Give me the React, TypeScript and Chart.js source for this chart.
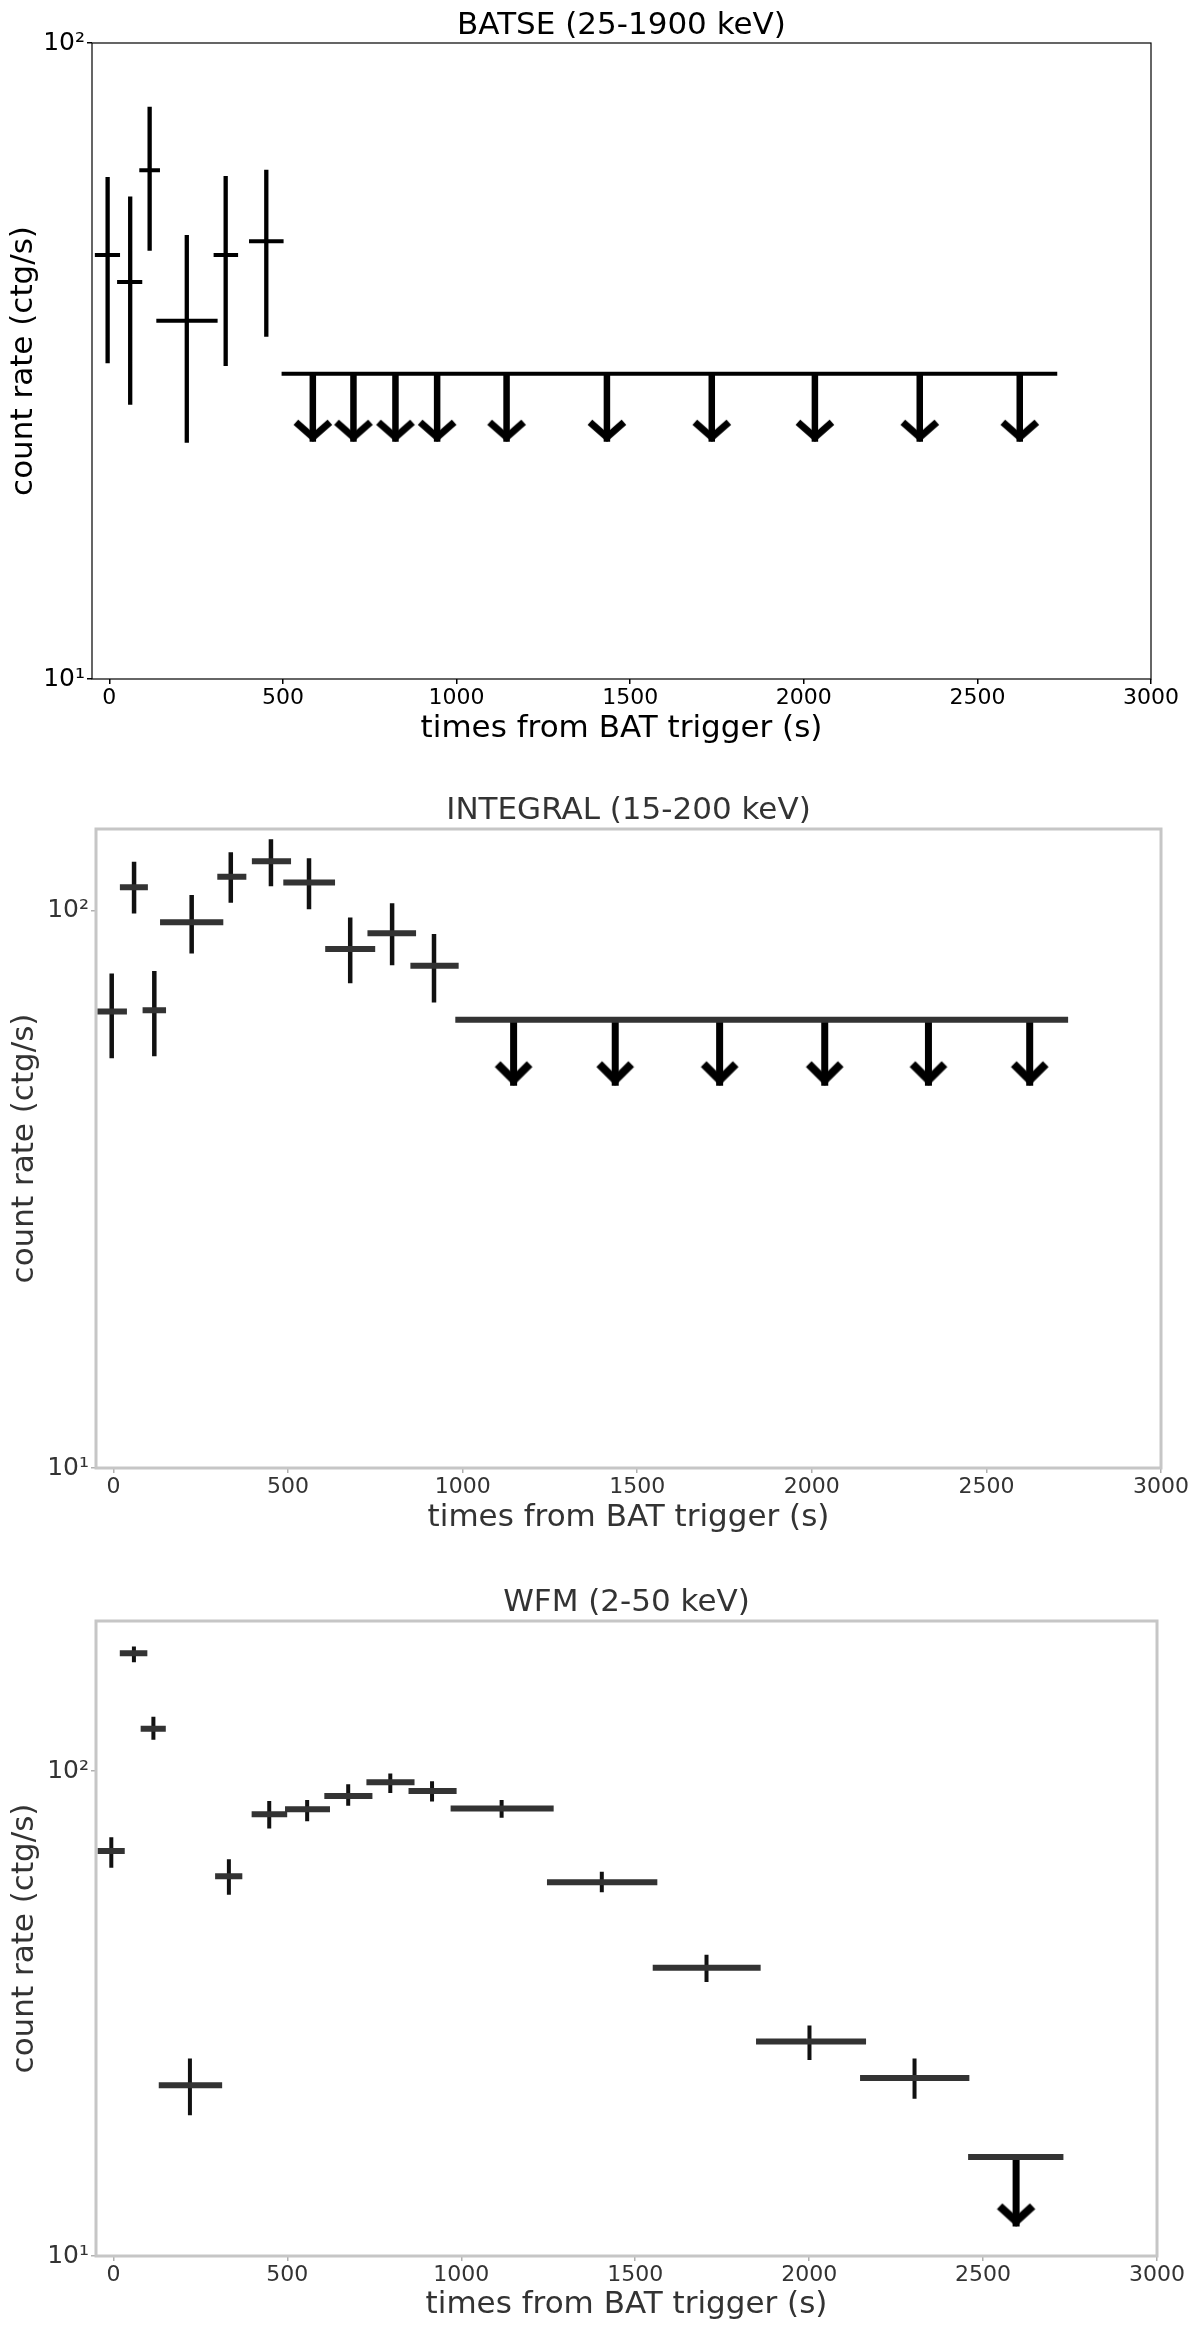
import React, { useEffect, useRef } from "react";
import { Chart, registerables } from "chart.js";

Chart.register(...registerables);

// ---------- shared axis data ----------
const X_TICKS = [0, 500, 1000, 1500, 2000, 2500, 3000];
const X_MIN = -50;
const X_MAX = 3000;
const Y_TICKS = [10, 100];
const Y_TICK_LABELS = ["10¹", "10²"];
const X_LABEL = "times from BAT trigger (s)";
const Y_LABEL = "count rate (ctg/s)";

// ---------- BATSE (25-1900 keV) ----------
const BATSE_TITLE = "BATSE (25-1900 keV)";
const BATSE_T = [-5, 60, 116, 223, 335, 452];
const BATSE_T_LO = [-36, 28, 92, 141, 306, 408];
const BATSE_T_HI = [25, 89, 140, 306, 365, 496];
const BATSE_RATE = [46.4, 42.1, 63.1, 36.6, 46.4, 48.8];
const BATSE_RATE_LO = [31.6, 27.2, 47.5, 23.7, 31.3, 34.8];
const BATSE_RATE_HI = [61.1, 56.9, 78.8, 49.5, 61.3, 62.7];
const BATSE_UL_T = [586, 703, 824, 944, 1144, 1433, 1735, 2032, 2334, 2622];
const BATSE_UL_T_LO = [496, 645, 763, 884, 1044, 1290, 1584, 1884, 2183, 2478];
const BATSE_UL_T_HI = [645, 763, 884, 1044, 1290, 1584, 1884, 2183, 2478, 2730];
const BATSE_UL_RATE = [30.2, 30.2, 30.2, 30.2, 30.2, 30.2, 30.2, 30.2, 30.2, 30.2];
const BATSE_UL_TIP = [23.6, 23.6, 23.6, 23.6, 23.6, 23.6, 23.6, 23.6, 23.6, 23.6];
const BATSE_Y_MAX = 100;

// ---------- INTEGRAL (15-200 keV) ----------
const INTEGRAL_TITLE = "INTEGRAL (15-200 keV)";
const INTEGRAL_T = [-5, 59, 117, 224, 336, 451, 560, 678, 798, 918];
const INTEGRAL_T_LO = [-38, 27, 92, 142, 306, 405, 495, 615, 736, 859];
const INTEGRAL_T_HI = [30, 90, 142, 306, 372, 500, 626, 741, 858, 980];
const INTEGRAL_RATE = [65.9, 110.1, 66.2, 95.3, 115, 122.6, 112.3, 85.3, 91, 79.6];
const INTEGRAL_RATE_LO = [54.8, 99.7, 55.3, 84.5, 104.2, 111.6, 101.4, 74.7, 80.5, 69];
const INTEGRAL_RATE_HI = [76.4, 121.2, 77.2, 105.6, 126, 133, 122.9, 96.2, 102.1, 89.9];
const INTEGRAL_UL_T = [1146, 1437, 1736, 2037, 2334, 2624];
const INTEGRAL_UL_T_LO = [979, 1290, 1585, 1885, 2185, 2480];
const INTEGRAL_UL_T_HI = [1290, 1585, 1885, 2185, 2480, 2734];
const INTEGRAL_UL_RATE = [63.7, 63.7, 63.7, 63.7, 63.7, 63.7];
const INTEGRAL_UL_TIP = [48.5, 48.5, 48.5, 48.5, 48.5, 48.5];
const INTEGRAL_Y_MAX = 140;

// ---------- WFM (2-50 keV) ----------
const WFM_TITLE = "WFM (2-50 keV)";
const WFM_T = [-6, 59, 115, 220, 332, 448, 557, 675, 796, 916, 1116, 1404, 1705, 2001, 2303];
const WFM_T_LO = [-37, 27, 87, 139, 301, 406, 502, 615, 736, 857, 978, 1255, 1559, 1856, 2155];
const WFM_T_HI = [24, 89, 142, 304, 362, 491, 614, 736, 857, 978, 1257, 1555, 1852, 2155, 2452];
const WFM_RATE = [68.4, 175, 122.3, 22.5, 60.7, 81.5, 83.4, 88.9, 94.9, 91, 83.7, 59, 39.3, 27.7, 23.3];
const WFM_RATE_LO = [63.8, 169.4, 117.2, 19.7, 56.1, 76.9, 79.6, 85.7, 91, 87.4, 80.9, 56.8, 37.1, 25.6, 21.3];
const WFM_RATE_HI = [72.4, 179, 128.2, 25.3, 65.2, 86, 86.4, 93.1, 97.9, 94.4, 86.4, 61.4, 41.4, 29.6, 25.3];
const WFM_UL_T = [2595];
const WFM_UL_T_LO = [2457];
const WFM_UL_T_HI = [2731];
const WFM_UL_RATE = [16];
const WFM_UL_TIP = [11.5];
const WFM_Y_MAX = 204;

const FONT = "'DejaVu Sans', 'Liberation Sans', sans-serif";
const TITLE_SIZE = 31;
const LABEL_SIZE = 31;
const X_TICK_SIZE = 22;
const Y_TICK_SIZE = 25;

type Style = {
  canvasTop: number;
  canvasHeight: number;
  left: number;
  right: number;
  top: number;
  bottom: number;
  titleCenter: number;
  xLabelCenter: number;
  yLabelCenter: number;
  text: string;
  frame: string;
  frameWidth: number;
  tick: string;
  hColor: string;
  hWidth: number;
  vColor: string;
  vWidth: number;
  shaftColor: string;
  shaftWidth: number;
  headWidth: number;
  headHalfW: number;
  headH: number;
};

type Series = {
  title: string;
  t: number[];
  tLo: number[];
  tHi: number[];
  r: number[];
  rLo: number[];
  rHi: number[];
  ulT: number[];
  ulTLo: number[];
  ulTHi: number[];
  ulR: number[];
  ulTip: number[];
  yMax: number;
};

function chevron(color: string, lw: number, halfW: number, h: number): HTMLCanvasElement {
  const c = document.createElement("canvas");
  const W = Math.ceil(2 * halfW + 2 * lw);
  const H = Math.ceil(2 * (h + 2 * lw));
  c.width = W;
  c.height = H;
  const ctx = c.getContext("2d")!;
  const cx = W / 2;
  const cy = H / 2;
  const ext = lw / 2 / Math.sin(Math.atan2(halfW, h));
  const vy = cy - ext;
  ctx.strokeStyle = color;
  ctx.lineWidth = lw;
  ctx.lineJoin = "miter";
  ctx.lineCap = "butt";
  ctx.beginPath();
  ctx.moveTo(cx - halfW, vy - h);
  ctx.lineTo(cx, vy);
  ctx.lineTo(cx + halfW, vy - h);
  ctx.stroke();
  return c;
}

const framePlugin = {
  id: "frame",
  afterDatasetsDraw(chart: any, _args: any, opts: any) {
    const { ctx, chartArea: a } = chart;
    ctx.save();
    ctx.strokeStyle = opts.color;
    ctx.lineWidth = opts.width;
    ctx.strokeRect(a.left, a.top, a.right - a.left, a.bottom - a.top);
    ctx.restore();
  },
};

function segLine(data: any[], color: string, width: number, cap: string) {
  return {
    data,
    showLine: true,
    spanGaps: false,
    borderColor: color,
    borderWidth: width,
    borderCapStyle: cap,
    pointRadius: 0,
  };
}

function buildConfig(s: Series, st: Style): any {
  const hBars: any[] = [];
  const vBars: any[] = [];
  s.t.forEach((t, i) => {
    hBars.push({ x: s.tLo[i], y: s.r[i] }, { x: s.tHi[i], y: s.r[i] }, { x: t, y: null });
    vBars.push({ x: t, y: s.rLo[i] }, { x: t, y: s.rHi[i] }, { x: t, y: null });
  });
  const limH: any[] = [];
  const limV: any[] = [];
  s.ulT.forEach((t, i) => {
    limH.push({ x: s.ulTLo[i], y: s.ulR[i] }, { x: s.ulTHi[i], y: s.ulR[i] }, { x: t, y: null });
    limV.push({ x: t, y: s.ulR[i] }, { x: t, y: s.ulTip[i] }, { x: t, y: null });
  });
  const heads = s.ulT.map((t, i) => ({ x: t, y: s.ulTip[i] }));
  const head = chevron(st.shaftColor, st.headWidth, st.headHalfW, st.headH);

  const titlePadTop = st.titleCenter - TITLE_SIZE / 2;
  const titlePadBottom = Math.max(0, st.top - TITLE_SIZE - titlePadTop);
  const labelLH = LABEL_SIZE * 1.2;
  const xAxisHeight = st.canvasHeight - st.bottom;

  return {
    type: "scatter",
    data: {
      datasets: [
        segLine(hBars, st.hColor, st.hWidth, "square"),
        segLine(vBars, st.vColor, st.vWidth, "square"),
        segLine(limH, st.hColor, st.hWidth, "butt"),
        segLine(limV, st.shaftColor, st.shaftWidth, "butt"),
        {
          data: heads,
          showLine: false,
          pointStyle: head,
          pointRadius: 4,
          borderWidth: 0,
        },
      ],
    },
    options: {
      animation: false,
      responsive: false,
      maintainAspectRatio: false,
      devicePixelRatio: 1,
      layout: { padding: { left: 0, right: 1200 - st.right, top: 0, bottom: 0 } },
      plugins: {
        legend: { display: false },
        tooltip: { enabled: false },
        title: {
          display: true,
          text: s.title,
          fullSize: false,
          color: st.text,
          font: { family: FONT, size: TITLE_SIZE, weight: "normal", lineHeight: 1.0 },
          padding: { top: titlePadTop, bottom: titlePadBottom },
        },
        frame: { color: st.frame, width: st.frameWidth },
      },
      scales: {
        x: {
          type: "linear",
          min: X_MIN,
          max: X_MAX,
          afterBuildTicks: (sc: any) => {
            sc.ticks = X_TICKS.map((v) => ({ value: v }));
          },
          afterFit: (sc: any) => {
            sc.height = xAxisHeight;
          },
          ticks: {
            color: st.text,
            font: { family: FONT, size: X_TICK_SIZE },
            padding: 1,
            maxRotation: 0,
            autoSkip: false,
            callback: (v: any) => String(v),
          },
          grid: {
            display: true,
            drawOnChartArea: false,
            drawTicks: true,
            tickLength: 5,
            color: st.tick,
            lineWidth: 1.5,
          },
          border: { display: false },
          title: {
            display: true,
            text: X_LABEL,
            color: st.text,
            font: { family: FONT, size: LABEL_SIZE },
            padding: { top: 0, bottom: st.canvasHeight - st.xLabelCenter - labelLH / 2 },
          },
        },
        y: {
          type: "logarithmic",
          min: Y_TICKS[0],
          max: s.yMax,
          afterBuildTicks: (sc: any) => {
            sc.ticks = Y_TICKS.map((v) => ({ value: v }));
          },
          afterFit: (sc: any) => {
            sc.width = st.left;
          },
          ticks: {
            color: st.text,
            font: { family: FONT, size: Y_TICK_SIZE },
            padding: 2,
            autoSkip: false,
            callback: (v: any) => {
              const k = Y_TICKS.indexOf(Number(v));
              return k >= 0 ? Y_TICK_LABELS[k] : "";
            },
          },
          grid: {
            display: true,
            drawOnChartArea: false,
            drawTicks: true,
            tickLength: 5,
            color: st.tick,
            lineWidth: 1.5,
          },
          border: { display: false },
          title: {
            display: true,
            text: Y_LABEL,
            color: st.text,
            font: { family: FONT, size: LABEL_SIZE },
            padding: { top: st.yLabelCenter - labelLH / 2, bottom: 0 },
          },
        },
      },
    },
    plugins: [framePlugin],
  };
}

const BATSE: Series = {
  title: BATSE_TITLE,
  t: BATSE_T, tLo: BATSE_T_LO, tHi: BATSE_T_HI,
  r: BATSE_RATE, rLo: BATSE_RATE_LO, rHi: BATSE_RATE_HI,
  ulT: BATSE_UL_T, ulTLo: BATSE_UL_T_LO, ulTHi: BATSE_UL_T_HI, ulR: BATSE_UL_RATE, ulTip: BATSE_UL_TIP,
  yMax: BATSE_Y_MAX,
};
const INTEGRAL: Series = {
  title: INTEGRAL_TITLE,
  t: INTEGRAL_T, tLo: INTEGRAL_T_LO, tHi: INTEGRAL_T_HI,
  r: INTEGRAL_RATE, rLo: INTEGRAL_RATE_LO, rHi: INTEGRAL_RATE_HI,
  ulT: INTEGRAL_UL_T, ulTLo: INTEGRAL_UL_T_LO, ulTHi: INTEGRAL_UL_T_HI, ulR: INTEGRAL_UL_RATE, ulTip: INTEGRAL_UL_TIP,
  yMax: INTEGRAL_Y_MAX,
};
const WFM: Series = {
  title: WFM_TITLE,
  t: WFM_T, tLo: WFM_T_LO, tHi: WFM_T_HI,
  r: WFM_RATE, rLo: WFM_RATE_LO, rHi: WFM_RATE_HI,
  ulT: WFM_UL_T, ulTLo: WFM_UL_T_LO, ulTHi: WFM_UL_T_HI, ulR: WFM_UL_RATE, ulTip: WFM_UL_TIP,
  yMax: WFM_Y_MAX,
};

const STYLE1: Style = {
  canvasTop: 0, canvasHeight: 770,
  left: 92, right: 1151, top: 43, bottom: 679,
  titleCenter: 26, xLabelCenter: 729, yLabelCenter: 24,
  text: "#000000", frame: "#000000", frameWidth: 1.2, tick: "#000000",
  hColor: "#000000", hWidth: 4, vColor: "#000000", vWidth: 4.3,
  shaftColor: "#000000", shaftWidth: 6.5, headWidth: 7, headHalfW: 17, headH: 15,
};
const STYLE2: Style = {
  canvasTop: 770, canvasHeight: 790,
  left: 96, right: 1161, top: 59, bottom: 698,
  titleCenter: 41, xLabelCenter: 748, yLabelCenter: 25,
  text: "#333333", frame: "#c6c6c6", frameWidth: 3, tick: "#b0b0b0",
  hColor: "#333333", hWidth: 6, vColor: "#111111", vWidth: 4.5,
  shaftColor: "#000000", shaftWidth: 7, headWidth: 8, headHalfW: 16, headH: 16,
};
const STYLE3: Style = {
  canvasTop: 1560, canvasHeight: 766,
  left: 96, right: 1157, top: 61, bottom: 696,
  titleCenter: 42.5, xLabelCenter: 745, yLabelCenter: 25,
  text: "#333333", frame: "#c6c6c6", frameWidth: 3, tick: "#b0b0b0",
  hColor: "#333333", hWidth: 6, vColor: "#111111", vWidth: 4,
  shaftColor: "#000000", shaftWidth: 7, headWidth: 8, headHalfW: 16.5, headH: 15,
};

function Panel({ series, st }: { series: Series; st: Style }) {
  const ref = useRef<HTMLCanvasElement>(null);
  useEffect(() => {
    const chart = new Chart(ref.current!, buildConfig(series, st));
    return () => chart.destroy();
  }, [series, st]);
  return (
    <canvas
      ref={ref}
      width={1200}
      height={st.canvasHeight}
      style={{ position: "absolute", left: 0, top: st.canvasTop, width: 1200, height: st.canvasHeight }}
    />
  );
}

export default function App() {
  return (
    <div style={{ position: "absolute", left: 0, top: 0, width: 1200, height: 2326, background: "#ffffff" }}>
      <Panel series={BATSE} st={STYLE1} />
      <Panel series={INTEGRAL} st={STYLE2} />
      <Panel series={WFM} st={STYLE3} />
    </div>
  );
}
